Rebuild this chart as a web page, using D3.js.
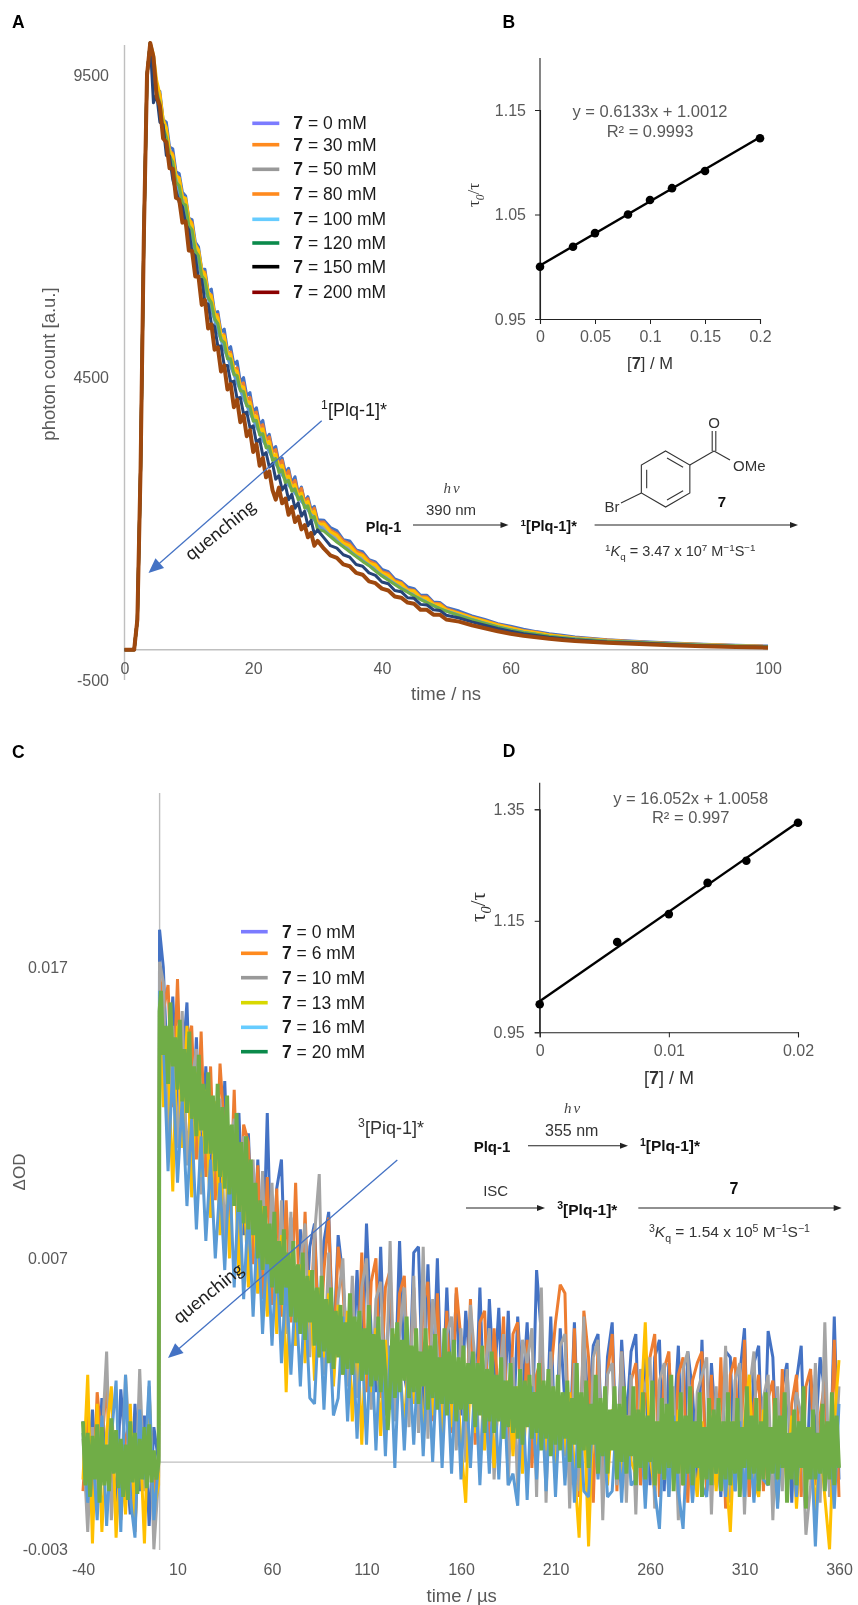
<!DOCTYPE html>
<html><head><meta charset="utf-8">
<script src="https://cdn.jsdelivr.net/npm/d3@7/dist/d3.min.js"></script>
<style>
html,body{margin:0;padding:0;background:#fff}
svg{display:block;filter:blur(0.4px)}
text{font-family:"Liberation Sans",Arial,sans-serif}
</style></head><body>
<svg id="c" width="858" height="1605"></svg>
<script>
// ---------- Panel A: fluorescence decay (photon counts) ----------
const timeA=[0,1,1.5,2,2.5,3,3.5,4,...d3.range(4.5,30.01,.5),...d3.range(31,50.01,1),...d3.range(52,70.01,2),...d3.range(75,100.01,5)];
const riseA=[0,0,0,500,3000,6800,9500,10030];
const a0=[...riseA,
9500,9180,9230,8760,8720,8310,8280,7900,7870,7560,7500,7130,7110,6740,6660,6290,6290,5920,5960,5570,5590,5250,5300,4950,5010,4710,
4770,4420,4500,4200,4250,3930,4000,3720,3790,3480,3560,3300,3360,3090,3170,2930,3000,2750,2860,2590,2690,2450,2530,2320,2370,2150,
2140,2020,1970,1820,1800,1650,1620,1490,1450,1330,1290,1170,1130,1040,1010,900,900,790,780,700,
640,560,500,430,390,340,300,265,240,210,
165,135,110,90,75,60];
const a30=[...riseA,
9750,9300,9180,8720,8610,8250,8200,7840,7800,7490,7440,7110,7060,6650,6600,6260,6240,5880,5870,5540,5540,5180,5210,4900,4920,4630,
4660,4370,4410,4120,4170,3900,3930,3670,3720,3460,3520,3260,3310,3050,3130,2870,2960,2710,2800,2570,2670,2440,2500,2270,2340,2110,
2110,1980,1920,1800,1750,1630,1580,1470,1420,1290,1260,1140,1110,1000,980,880,870,770,760,680,
610,540,480,420,370,320,290,250,225,200,
160,130,105,85,70,55];
const a50=[...riseA,
9600,9320,9020,8750,8460,8260,8050,7860,7660,7490,7340,7120,6910,6700,6490,6300,6100,5920,5730,5570,5390,5220,5070,4930,4780,4650,
4510,4380,4250,4120,4000,3880,3770,3660,3550,3450,3340,3240,3150,3050,2960,2880,2790,2720,2650,2570,2510,2440,2370,2290,2200,2110,
2020,1930,1830,1760,1680,1590,1500,1430,1350,1270,1190,1120,1050,990,930,860,810,760,710,660,
590,520,460,400,350,310,275,240,215,190,
150,125,100,80,65,50];
const a80=[...riseA,
9840,9410,9180,8770,8630,8240,8170,7840,7800,7490,7460,7130,7020,6700,6610,6280,6200,5910,5840,5560,5490,5210,5180,4900,4880,4640,
4600,4360,4340,4100,4090,3860,3860,3620,3650,3410,3440,3210,3230,3010,3050,2840,2870,2680,2730,2540,2590,2410,2450,2250,2290,2080,
2080,1950,1890,1760,1720,1590,1560,1430,1400,1270,1230,1120,1090,980,970,860,850,750,740,660,
600,530,470,410,360,310,280,245,220,195,
155,125,100,85,65,52];
const a100=[...riseA,
9450,9200,8900,8620,8300,8150,7910,7730,7540,7380,7180,6990,6790,6560,6390,6150,5960,5810,5610,5450,5260,5120,4960,4830,4680,4550,
4410,4290,4150,4040,3910,3800,3690,3580,3460,3370,3270,3170,3070,2990,2890,2810,2720,2660,2590,2520,2450,2390,2310,2230,2140,2060,
1970,1880,1790,1710,1630,1550,1470,1400,1310,1230,1160,1090,1020,960,890,840,780,730,680,640,
570,500,440,380,330,290,255,225,200,180,
145,120,95,78,62,48];
const a120=[...riseA,
9610,9230,9030,8630,8470,8160,8060,7730,7670,7380,7350,7010,6940,6590,6510,6180,6110,5820,5740,5470,5390,5120,5080,4810,4810,4550,
4530,4280,4270,4030,4020,3780,3790,3550,3570,3340,3360,3130,3160,2930,2970,2760,2800,2620,2660,2480,2530,2340,2380,2170,2200,1990,
1960,1870,1780,1700,1620,1540,1460,1390,1300,1220,1150,1080,1010,950,890,830,780,730,680,640,
565,495,435,375,325,285,255,225,200,178,
142,120,97,76,60,48];
const a150=[...riseA,
9040,9180,8720,8680,8170,8160,7770,7580,7400,7320,7040,6940,6560,6510,6120,6120,5740,5710,5390,5340,5020,5020,4700,4700,4420,4440,
4150,4170,3900,3930,3670,3700,3420,3480,3210,3260,3020,3080,2820,2880,2640,2720,2480,2570,2340,2430,2210,2290,2050,2140,1910,1980,
1850,1720,1680,1570,1530,1410,1380,1270,1230,1120,1090,980,960,860,850,750,740,660,650,570,
525,460,405,350,305,265,235,205,185,165,
130,110,85,68,52,42];
const a200=[...riseA,
9800,9140,8990,8450,8390,7960,7950,7470,7440,7060,7080,6600,6590,6170,6170,5700,5780,5310,5380,4960,5000,4600,4700,4300,4390,4010,
4130,3760,3880,3530,3630,3270,3400,3040,3170,2850,2950,2640,2480,2680,2420,2500,2230,2360,2110,2200,1990,2060,1860,1930,1720,1800,
1670,1560,1520,1410,1380,1270,1240,1130,1100,1010,980,880,860,780,760,660,660,580,580,500,
465,405,355,305,265,230,205,180,160,145,
115,95,75,58,45,35];
const seriesA=[a0,a30,a50,a80,a100,a120,a150,a200];
const colorsA=["#4472C4","#ED7D31","#A5A5A5","#FFC000","#5B9BD5","#70AD47","#264478","#9E480E"];
const legendLabelsA=["0","30","50","80","100","120","150","200"];
const legendColorsA=["#7B7BFF","#FF8A1E","#999999","#FF8A1E","#66CCFF","#0B8A4B","#000000","#8B0000"];
const legendOffsetsA=[123.3,144.7,169.3,194,219.3,243,266.7,292.3];
const xTicksA=[0,20,40,60,80,100];
const yTicksA=[9500,4500,-500];

// ---------- Panel B: Stern-Volmer ----------
const concB=[0,0.03,0.05,0.08,0.1,0.12,0.15,0.2];
const ratioB=[1.0,1.0192,1.0322,1.05,1.0639,1.0752,1.0916,1.123];
const fitB=[0.6133,1.0012];
const xTicksB=[0,0.05,0.1,0.15,0.2];
const yTicksB=[0.95,1.05,1.15];

// ---------- Panel C: transient absorption, units of 1e-4 OD ----------
const timeC=[...d3.range(-40,0,2.5),0,0.5,...d3.range(2.5,360.1,2.5)];
const timeCfine=[...d3.range(-40,0,1.25),0,0.5,...d3.range(1.25,360.01,1.25)];
const c0=[14,-8,18,-12,22,-5,10,-16,25,3,-18,20,-10,16,-22,12,0,183,
170,128,160,122,135,158,108,146,100,136,95,122,88,131,84,110,120,78,113,70,
104,62,120,58,94,104,52,84,50,80,44,74,82,40,76,86,38,78,64,34,
30,66,28,82,44,24,74,26,60,22,76,30,20,72,74,18,68,24,70,16,
60,20,58,16,52,30,14,60,12,56,26,53,10,52,8,50,22,48,6,66,
44,6,50,2,46,20,4,48,0,42,18,40,44,-2,36,48,-4,42,14,38,
44,-6,38,-8,36,42,-10,34,12,40,-8,38,24,-6,42,-10,34,10,-12,38,
36,-10,30,46,-12,34,40,-8,45,36,-6,26,34,-14,28,40,-12,30,8,36,
24,-10,50,-6];
const c6=[-10,16,-18,24,6,28,-14,10,-20,8,14,-24,18,-8,20,-12,2,168,
155,164,122,166,118,144,150,104,148,98,136,90,137,112,80,128,76,116,110,68,
102,56,98,54,94,50,90,48,96,44,86,40,80,36,66,84,34,74,60,32,
58,26,72,24,62,70,22,60,66,18,58,64,20,60,16,54,62,14,58,12,
52,10,60,42,8,56,6,48,52,4,46,20,50,2,44,48,0,42,-2,30,
36,-6,30,48,61,58,-8,46,-12,52,36,-14,40,-6,30,44,-10,38,-4,28,
34,-8,26,36,44,-12,32,38,-6,30,36,-14,28,34,38,-10,30,-8,36,-16,
30,36,-8,42,-12,20,30,-10,22,28,-14,32,-6,20,30,-12,26,32,-8,16,
28,-8,42,-12];
const c10=[8,-24,12,-16,6,38,-20,10,-14,30,4,-18,32,-10,26,-30,-5,172,
165,112,150,108,155,102,130,142,92,128,84,116,125,76,108,118,70,112,62,104,
58,100,52,96,48,90,44,86,40,68,82,36,78,99,30,72,28,56,70,26,
64,22,60,70,18,56,62,16,76,14,44,60,12,64,10,74,8,56,38,6,
44,50,4,46,0,54,34,-2,30,46,-6,26,44,-8,36,-10,42,34,46,-12,
60,-14,38,-6,40,44,-16,34,-10,50,-18,36,42,-20,30,34,-8,38,-14,30,
-18,32,24,36,-16,28,34,-12,26,-20,32,38,-14,24,30,36,-18,26,-10,40,
-14,28,34,-18,24,38,-12,22,30,-20,26,-10,32,-2,24,16,-25,-8,34,-14,
48,-12,-6,26];
const c13=[-6,30,-28,20,-24,10,26,-26,4,-18,20,-22,12,-28,24,-16,-8,158,
122,140,93,150,108,150,91,134,98,128,84,124,78,115,70,110,64,98,60,95,
58,88,50,80,44,78,24,72,40,68,34,66,28,60,36,58,26,54,30,52,
14,48,6,46,24,46,9,42,18,44,34,12,40,20,38,8,40,16,36,10,
34,12,33,6,-14,32,10,30,4,28,-2,26,8,28,2,26,-4,24,26,6,
24,4,24,-6,22,2,24,-2,-26,20,-29,18,-4,20,-8,18,16,-6,16,0,
-4,16,48,2,-10,14,-6,16,-2,18,-8,14,4,-12,14,-4,16,-10,12,-2,
-24,14,-10,14,30,-6,-12,18,-4,12,-14,12,-8,16,-16,10,-10,12,-18,8,
-12,-30,14,35];
const c16=[10,-14,6,-20,16,-22,8,28,-24,30,-12,-26,18,-6,28,-20,0,162,
145,100,136,96,125,88,118,80,112,76,104,70,96,66,102,60,96,56,88,50,
84,44,76,40,72,34,64,30,60,26,58,22,20,54,18,52,16,22,50,14,
46,8,44,6,44,4,42,2,40,-2,38,4,36,6,38,2,36,0,36,-2,
34,-4,32,-6,32,-2,30,-8,28,-4,30,-6,28,-8,-4,-15,26,-13,26,-6,
24,-10,24,-12,22,-8,20,-14,22,-10,-12,20,-6,18,-12,-10,18,-14,16,-8,
-6,16,-16,14,-10,-23,14,-12,16,-10,-23,12,-14,14,-8,-12,14,-4,12,-12,
12,-10,14,-12,10,-14,12,-6,-8,12,-16,12,-4,10,-12,14,-6,10,-29,8,
-6,12,-16,20];
const c20=[14,-8,10,-12,9,-6,13,-14,12,-8,6,-10,15,-4,11,-9,8,-12,6,-13,14,-7,10,-11,8,-6,12,-9,13,-7,4,-6,0,155,
162,140,150,130,158,136,146,128,152,124,142,120,148,118,136,112,140,114,130,106,
134,106,126,100,130,98,122,94,126,92,116,88,120,86,110,82,112,80,104,78,
96,70,90,66,88,68,82,60,86,58,76,54,80,60,72,50,76,48,68,44,
72,42,64,48,66,40,60,36,64,38,56,34,60,32,52,36,54,30,48,32,
58,30,50,34,52,28,46,30,54,26,44,28,50,24,42,30,11,26,46,22,
48,24,42,28,50,22,40,24,46,20,38,26,46,18,40,22,44,18,36,20,
46,16,38,20,42,14,36,18,40,14,34,20,38,12,34,16,40,10,32,14,
38,10,30,14,36,8,28,12,34,10,26,8,32,6,28,12,30,8,24,10,
34,4,28,8,32,2,26,6,30,4,24,8,28,0,22,6,34,-2,24,4,
28,-2,20,6,30,-4,22,2,26,-4,18,4,26,-6,20,0,26,-4,16,2,
26,-8,18,-2,24,-6,16,0,28,-8,14,-4,22,-6,20,-2,30,-10,14,-4,
24,-8,16,-4,26,-8,14,-2,24,-12,12,-6,22,-8,18,-4,22,-10,14,-6,
24,-8,14,-4,22,-12,12,-2,26,-6,16,-4,22,-10,14,-6,24,-8,12,-4,
22,-6,16,-2,24,-14,10,-6,18,-8,14,-2,26,-16,12,-6,18,-6,10,-4,
20,-10,14,-6,24,-8,16,-2];
const seriesC=[c0,c6,c10,c13,c16,c20];
const timesC=[timeC,timeC,timeC,timeC,timeC,timeCfine];
const colorsC=["#4472C4","#ED7D31","#A5A5A5","#FFC000","#5B9BD5","#70AD47"];
const legendLabelsC=["0","6","10","13","16","20"];
const legendColorsC=["#7B7BFF","#FF8A1E","#999999","#D8D800","#66CCFF","#0B8A4B"];
const legendOffsetsC=[931.7,953.3,977.7,1002.7,1027.3,1051.7];
const xTicksC=[-40,10,60,110,160,210,260,310,360];
const yTicksC=[170,70,-30];
const yLabelsC=["0.017","0.007","-0.003"];

// ---------- Panel D: Stern-Volmer ----------
const concD=[0,0.006,0.01,0.013,0.016,0.02];
const ratioD=[1.0002,1.112,1.162,1.218,1.2578,1.326];
const fitD=[16.052,1.0058];
const xTicksD=[0,0.01,0.02];
const yTicksD=[0.95,1.15,1.35];

seriesA.forEach((s,i)=>{if(s.length!==timeA.length)throw new Error("A"+i+" "+s.length+"/"+timeA.length)});
seriesC.forEach((s,i)=>{if(s.length!==timesC[i].length)throw new Error("C"+i+" "+s.length+"/"+timesC[i].length)});

const svg=d3.select("#c");
const GRAY="#595959", AXG="#BFBFBF";

function rich(x,y,parts,o={}){
  const size=o.size||16;
  const t=svg.append("text").attr("text-anchor",o.anchor||"middle")
    .attr("font-size",size).attr("fill",o.fill||"#222")
    .attr("transform",`translate(${x},${y})`+(o.rot?` rotate(${o.rot})`:""));
  if(o.family)t.style("font-family",o.family);
  let shift=0;
  const base=0.35*size;
  t.attr("y",base);
  (Array.isArray(parts)?parts:[[parts]]).forEach(p=>{
    const [s,f={}]=p;
    const target=f.sup?-0.38*size:f.sub?0.28*size:0;
    const ts=t.append("tspan").text(s).attr("dy",target-shift);
    shift=target;
    if(f.bold)ts.attr("font-weight","bold");
    if(f.italic)ts.attr("font-style","italic");
    if(f.sup||f.sub)ts.attr("font-size",size*0.68);
    if(f.family)ts.style("font-family",f.family);
  });
  return t;
}
function arrow(x1,y1,x2,y2,o={}){
  const c=o.color||"#222",w=o.w||1.2,hl=o.hl||8,hw=o.hw||3;
  const a=Math.atan2(y2-y1,x2-x1),ca=Math.cos(a),sa=Math.sin(a);
  svg.append("line").attr("x1",x1).attr("y1",y1).attr("x2",x2-ca*hl*.8).attr("y2",y2-sa*hl*.8)
    .attr("stroke",c).attr("stroke-width",w);
  svg.append("path").attr("fill",c)
    .attr("d",d3.line()([[x2,y2],[x2-ca*hl+sa*hw,y2-sa*hl-ca*hw],[x2-ca*hl-sa*hw,y2-sa*hl+ca*hw]])+"Z");
}
function panelLabel(x,y,s){svg.append("text").attr("x",x).attr("y",y).attr("font-size",17.5).attr("font-weight","bold").attr("fill","#000").text(s)}
function styleAxisText(g,size,fill){g.selectAll("text").attr("font-size",size).attr("fill",fill).style("font-family",'"Liberation Sans"');g.select(".domain").remove();g.selectAll("line").remove()}
function legend(labels,colors,ys,x1,x2,tx){
  labels.forEach((l,i)=>{
    svg.append("line").attr("x1",x1).attr("x2",x2).attr("y1",ys[i]).attr("y2",ys[i]).attr("stroke",colors[i]).attr("stroke-width",3.6);
    rich(tx,ys[i],[["7",{bold:1}],[" = "+l+" mM"]],{anchor:"start",size:17.5,fill:"#1a1a1a"});
  });
}

// ===== A =====
const xA=d3.scaleLinear().domain([0,100]).range([124.5,768]);
const yA=d3.scaleLinear().domain([-500,9500]).range([680,75]);
svg.append("line").attr("x1",124.5).attr("x2",124.5).attr("y1",45).attr("y2",680).attr("stroke",AXG).attr("stroke-width",1.4);
svg.append("line").attr("x1",124.5).attr("x2",768).attr("y1",yA(0)).attr("y2",yA(0)).attr("stroke",AXG).attr("stroke-width",1.4);
styleAxisText(svg.append("g").attr("transform","translate(124.5,0)").call(d3.axisLeft(yA).tickValues(yTicksA).tickSize(0).tickPadding(15.5).tickFormat(String)),16,GRAY);
styleAxisText(svg.append("g").attr("transform",`translate(0,${yA(0)})`).call(d3.axisBottom(xA).tickValues(xTicksA).tickSize(0).tickPadding(12.5).tickFormat(String)),16,GRAY);
const lineA=d3.line().x((d,i)=>xA(timeA[i])).y(d=>yA(d)).curve(d3.curveLinear);
seriesA.forEach((s,i)=>svg.append("path").attr("d",lineA(s)).attr("fill","none").attr("stroke",colorsA[i]).attr("stroke-width",i===7?4:3).attr("stroke-linejoin","round"));
legend(legendLabelsA,legendColorsA,legendOffsetsA,252.3,279.3,293.3);
rich(48.5,364,"photon count [a.u.]",{rot:-90,size:18.5,fill:GRAY});
rich(446,694,"time / ns",{size:18.5,fill:GRAY});
panelLabel(12,28,"A");
arrow(321.7,420.7,148.5,573,{color:"#4472C4",w:1.3,hl:15,hw:6.5});
rich(354,410,[["1",{sup:1}],["[Plq-1]*"]],{size:18,fill:"#1a1a1a"});
rich(220,530,"quenching",{rot:-38.6,size:18.5,fill:"#222",family:"Lato"});

// scheme A
rich(383.5,527,"Plq-1",{size:14.5,fill:"#111"}).attr("font-weight","bold");
arrow(413,525,508.5,525,{w:1.1});
rich(452.7,488,"hν",{size:15,fill:"#444",family:'"Liberation Serif"'}).attr("font-style","italic").style("letter-spacing","2px");
rich(451,510,"390 nm",{size:15,fill:"#333"});
rich(548.7,526,[["1",{sup:1}],["[Plq-1]*"]],{size:14.5,fill:"#111"}).attr("font-weight","bold");
arrow(594.6,525,798,525,{w:1.1});
rich(605,551,[["1",{sup:1}],["K",{italic:1}],["q",{sub:1}],[" = 3.47 x 10"],["7",{sup:1}],[" M"],["−1",{sup:1}],["S"],["−1",{sup:1}]],{anchor:"start",size:14.5,fill:"#333"});
// aryl bromide structure
const ringC=[665.6,479],R=28;
const hex=d3.range(6).map(k=>{const a=-Math.PI/2+k*Math.PI/3;return [ringC[0]+R*Math.cos(a),ringC[1]+R*Math.sin(a)]});
svg.append("path").attr("d",d3.line()(hex)+"Z").attr("fill","none").attr("stroke","#333").attr("stroke-width",1.1);
[[0,1],[2,3],[4,5]].forEach(([a,b])=>{
  const f=.78,m=p=>[ringC[0]+(p[0]-ringC[0])*f,ringC[1]+(p[1]-ringC[1])*f];
  const p=m(hex[a]),q=m(hex[b]);
  const s=.85,mx=(p[0]+q[0])/2,my=(p[1]+q[1])/2;
  svg.append("line").attr("x1",mx+(p[0]-mx)*s).attr("y1",my+(p[1]-my)*s).attr("x2",mx+(q[0]-mx)*s).attr("y2",my+(q[1]-my)*s).attr("stroke","#333").attr("stroke-width",1.1);
});
const bonds=[[hex[1],[714,451]],[[714,451],[730,460]],[[712.2,451],[712.2,431]],[[715.8,451],[715.8,431]],[hex[4],[621,503]]];
bonds.forEach(b=>svg.append("path").attr("d",d3.line()(b)).attr("stroke","#333").attr("stroke-width",1.1).attr("fill","none"));
rich(714,422.7,"O",{size:15,fill:"#333"});
rich(733,466,"OMe",{anchor:"start",size:15,fill:"#333"});
rich(612,507,"Br",{size:15,fill:"#333"});
rich(722,502,"7",{size:15,fill:"#111"}).attr("font-weight","bold");

// ===== B =====
function sternVolmer(o){
  const x=d3.scaleLinear().domain(o.xd).range(o.xr), y=d3.scaleLinear().domain(o.yd).range(o.yr);
  svg.append("line").attr("x1",o.xr[0]).attr("x2",o.xr[0]).attr("y1",o.yr[0]).attr("y2",o.top).attr("stroke","#222").attr("stroke-width",1.1);
  const gx=svg.append("g").attr("transform",`translate(0,${o.yr[0]})`).call(d3.axisBottom(x).tickValues(o.xt).tickSize(5).tickPadding(o.xpad).tickFormat(d=>String(d)));
  const gy=svg.append("g").attr("transform",`translate(${o.xr[0]},0)`).call(d3.axisLeft(y).tickValues(o.yt).tickSize(5).tickPadding(o.ypad).tickFormat(d3.format(".2f")));
  [gx,gy].forEach(g=>{g.select(".domain").attr("stroke","#222").attr("stroke-width",1.1);g.selectAll("line").attr("stroke","#222");g.selectAll("text").attr("font-size",16).attr("fill",GRAY)});
  const xs=d3.extent(o.cx);
  svg.append("line").attr("x1",x(xs[0])).attr("x2",x(xs[1])).attr("y1",y(o.fit[0]*xs[0]+o.fit[1])).attr("y2",y(o.fit[0]*xs[1]+o.fit[1])).attr("stroke","#000").attr("stroke-width",2.4);
  svg.append("g").selectAll("circle").data(o.cx).join("circle").attr("cx",d=>x(d)).attr("cy",(d,i)=>y(o.cy[i])).attr("r",4.3).attr("fill","#000");
}
sternVolmer({xd:[0,0.2],xr:[540,760],yd:[0.95,1.15],yr:[319,110],top:58,xt:xTicksB,yt:yTicksB,cx:concB,cy:ratioB,fit:fitB,xpad:7,ypad:9});
panelLabel(502.5,28,"B");
rich(650,111,"y = 0.6133x + 1.0012",{size:16.5,fill:GRAY});
rich(650,131,[["R² = 0.9993"]],{size:16.5,fill:GRAY});
rich(650,363,[["["],["7",{bold:1}],["] / M"]],{size:16.5,fill:"#333"});
rich(473,195,[["τ"],["0",{sub:1,italic:1}],["/τ"]],{rot:-90,size:17,fill:"#333",family:'"Liberation Serif"'});

// ===== C =====
const xC=d3.scaleLinear().domain([-40,360]).range([83,839]);
const yC=d3.scaleLinear().domain([-30,230]).range([1549.3,793]);
svg.append("line").attr("x1",xC(0)+1).attr("x2",xC(0)+1).attr("y1",793).attr("y2",1550).attr("stroke",AXG).attr("stroke-width",1.4);
svg.append("line").attr("x1",xC(-40)).attr("x2",xC(360)).attr("y1",yC(0)).attr("y2",yC(0)).attr("stroke",AXG).attr("stroke-width",1.2);
styleAxisText(svg.append("g").attr("transform","translate(83,0)").call(d3.axisLeft(yC).tickValues(yTicksC).tickSize(0).tickPadding(15).tickFormat((d,i)=>yLabelsC[i])),16,GRAY);
styleAxisText(svg.append("g").attr("transform",`translate(0,${1550})`).call(d3.axisBottom(xC).tickValues(xTicksC).tickSize(0).tickPadding(13.5).tickFormat(String)),16,GRAY);
seriesC.forEach((s,i)=>{
  const lineC=d3.line().x((d,j)=>xC(timesC[i][j])).y(d=>yC(d));
  svg.append("path").attr("d",lineC(s)).attr("fill","none").attr("stroke",colorsC[i]).attr("stroke-width",i===5?3.9:3).attr("stroke-linejoin","bevel");
});
legend(legendLabelsC,legendColorsC,legendOffsetsC,241,267.7,282);
rich(19,1172,"ΔOD",{rot:-90,size:17,fill:GRAY});
rich(461.7,1596,"time / µs",{size:18.5,fill:GRAY});
panelLabel(12,757.5,"C");
arrow(397.3,1160,168,1358,{color:"#4472C4",w:1.3,hl:15,hw:6.5});
rich(391,1128,[["3",{sup:1}],["[Piq-1]*"]],{size:18,fill:"#333"});
rich(208,1293,"quenching",{rot:-38.8,size:18.5,fill:"#222",family:"Lato"});

// ===== D =====
sternVolmer({xd:[0,0.02],xr:[539.7,798],yd:[0.95,1.35],yr:[1032.3,809.3],top:782.7,xt:xTicksD,yt:yTicksD,cx:concD,cy:ratioD,fit:fitD,xpad:7,ypad:10});
panelLabel(502.7,757,"D");
rich(690.7,798,"y = 16.052x + 1.0058",{size:16.5,fill:GRAY});
rich(690.7,817,"R² = 0.997",{size:16.5,fill:GRAY});
rich(669,1078,[["["],["7",{bold:1}],["] / M"]],{size:18,fill:"#333"});
rich(478,907,[["τ"],["0",{sub:1,italic:1}],["/τ"]],{rot:-90,size:21,fill:"#333",family:'"Liberation Serif"'});
// scheme D
rich(492,1147,"Plq-1",{size:15,fill:"#111"}).attr("font-weight","bold");
arrow(528,1145.7,628,1145.7,{w:1.1});
rich(573,1108,"hν",{size:15,fill:"#444",family:'"Liberation Serif"'}).attr("font-style","italic").style("letter-spacing","2px");
rich(571.7,1130.7,"355 nm",{size:16,fill:"#333"});
rich(670,1146,[["1",{sup:1}],["[Plq-1]*"]],{size:15.5,fill:"#111"}).attr("font-weight","bold");
rich(495.7,1190.7,"ISC",{size:15,fill:"#333"});
arrow(466,1208,545,1208,{w:1.1});
rich(587.3,1209.3,[["3",{sup:1}],["[Plq-1]*"]],{size:15.5,fill:"#111"}).attr("font-weight","bold");
arrow(638.3,1208,841.7,1208,{w:1.1});
rich(734,1188,"7",{size:16,fill:"#111"}).attr("font-weight","bold");
rich(649,1232,[["3",{sup:1}],["K",{italic:1}],["q",{sub:1}],[" = 1.54 x 10"],["5",{sup:1}],[" M"],["−1",{sup:1}],["S"],["−1",{sup:1}]],{anchor:"start",size:15.5,fill:"#333"});
</script></body></html>
